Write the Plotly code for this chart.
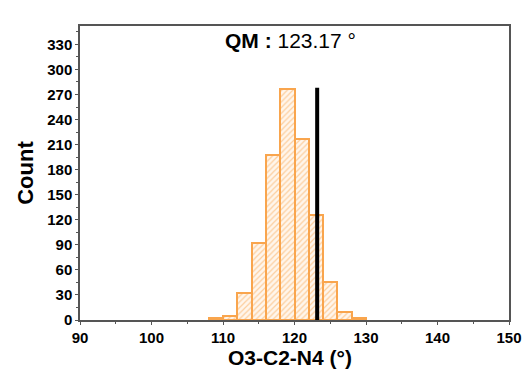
import plotly.graph_objects as go

bin_left = [108, 110, 112, 114, 116, 118, 120, 122, 124, 126, 128]
counts = [2, 5, 32, 92, 197, 277, 217, 126, 46, 10, 2]
bin_width = 2
qm_value = 123.17
qm_line_top = 278

x_ticks = [90, 100, 110, 120, 130, 140, 150]
y_ticks = [0, 30, 60, 90, 120, 150, 180, 210, 240, 270, 300, 330]

centers = [b + bin_width / 2 for b in bin_left]

fig = go.Figure()
fig.add_trace(go.Bar(
    x=centers, y=counts, width=[bin_width] * len(counts),
    marker=dict(
        color="#fff3e6",
        line=dict(color="#f9a54d", width=2),
        pattern=dict(shape="/", fgcolor="#f9a54d", bgcolor="#fff6ec", size=4, solidity=0.3),
    ),
    showlegend=False,
))
fig.add_trace(go.Scatter(
    x=[qm_value, qm_value], y=[0, qm_line_top], mode="lines",
    line=dict(color="black", width=4), showlegend=False,
))

font = "Liberation Sans, Arial, sans-serif"
W, H = 528, 369
ml, mr, mt, mb = 80, 19, 26, 49
plot_h = H - mt - mb
plot_w = W - ml - mr

axis_common = dict(
    showline=True, linecolor="#555", linewidth=1.5, mirror=True,
    ticks="outside", ticklen=3, tickwidth=1.2, tickcolor="#555",
    showgrid=False, zeroline=False, automargin=False,
    tickfont=dict(family=font, size=15, color="black", weight=700),
)
fig.update_layout(
    width=W, height=H,
    margin=dict(l=ml, r=mr, t=mt, b=mb),
    plot_bgcolor="white", paper_bgcolor="white",
    bargap=0,
    xaxis=dict(range=[90, 150], tickmode="array", tickvals=x_ticks,
               ticktext=[f"<b>{v}</b>" for v in x_ticks],
               minor=dict(dtick=5, ticks="outside", ticklen=2, tickcolor="#555"),
               **axis_common),
    yaxis=dict(range=[0, 352], tickmode="array", tickvals=y_ticks,
               ticktext=[f"<b>{v}</b>" for v in y_ticks],
               minor=dict(dtick=15, ticks="outside", ticklen=2, tickcolor="#555"),
               title=dict(text="<b>Count</b>", standoff=8,
                          font=dict(family=font, size=22, color="black", weight=700)),
               **axis_common),
    annotations=[
        dict(x=(290 - ml) / plot_w, y=1 - (41 - mt) / plot_h, xref="paper", yref="paper",
             xanchor="center", yanchor="middle",
             text="<b>QM :</b> 123.17 °", showarrow=False,
             font=dict(family=font, size=21, color="black")),
        dict(x=(290 - ml) / plot_w, y=1 - (357 - mt) / plot_h, xref="paper", yref="paper",
             xanchor="center", yanchor="middle",
             text="<b>O3-C2-N4 (°)</b>", showarrow=False,
             font=dict(family=font, size=21, color="black", weight=700)),
    ],
)
fig.write_html("out.html")
